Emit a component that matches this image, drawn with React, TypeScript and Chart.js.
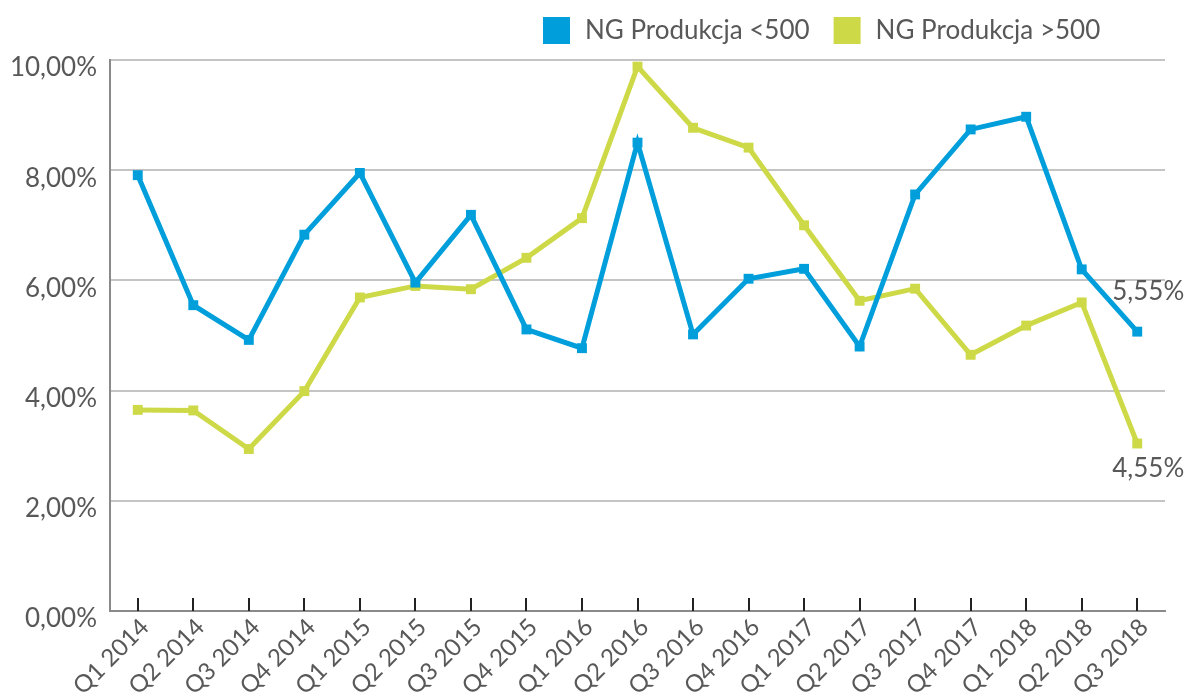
import React, { useEffect, useRef } from "react";
import { Chart, registerables } from "chart.js";
Chart.register(...registerables);

const categories = [
  "Q1 2014", "Q2 2014", "Q3 2014", "Q4 2014",
  "Q1 2015", "Q2 2015", "Q3 2015", "Q4 2015",
  "Q1 2016", "Q2 2016", "Q3 2016", "Q4 2016",
  "Q1 2017", "Q2 2017", "Q3 2017", "Q4 2017",
  "Q1 2018", "Q2 2018", "Q3 2018",
];
const seriesNames = ["NG Produkcja <500", "NG Produkcja >500"];
const valuesBelow500 = [
  7.91, 5.55, 4.92, 6.83, 7.95, 5.96, 7.19, 5.11, 4.77, 8.5,
  5.02, 6.03, 6.21, 4.8, 7.56, 8.74, 8.97, 6.2, 5.07,
];
const valuesAbove500 = [
  3.65, 3.64, 2.94, 3.99, 5.69, 5.9, 5.84, 6.41, 7.13, 9.88,
  8.77, 8.41, 7.0, 5.63, 5.85, 4.65, 5.18, 5.6, 3.04,
];
const endLabels = ["5,55%", "4,55%"];
const yMin = 0;
const yMax = 10;
const yStep = 2;

const COLORS = ["#009fdb", "#cdd947"];
const TEXT = "#585858";
const FONT = "Lato, 'Open Sans', sans-serif";

const fmt = (v: number) => v.toFixed(2).replace(".", ",") + "%";

const legendPlugin = {
  id: "customLegend",
  afterDraw(chart: any) {
    const ctx = chart.ctx;
    ctx.save();
    ctx.font = `26px ${FONT}`;
    ctx.textBaseline = "middle";
    let x = 543;
    const y = 30;
    chart.data.datasets.forEach((ds: any) => {
      ctx.fillStyle = ds.borderColor;
      ctx.fillRect(x, y - 13, 27, 27);
      x += 27 + 15;
      ctx.fillStyle = TEXT;
      ctx.textAlign = "left";
      ctx.fillText(ds.label, x, y + 1);
      x += ctx.measureText(ds.label).width + 24;
    });
    ctx.restore();
  },
};

const innerTicksPlugin = {
  id: "innerTicks",
  afterDraw(chart: any) {
    const sx = chart.scales.x;
    const ctx = chart.ctx;
    const bottom = chart.chartArea.bottom;
    ctx.save();
    ctx.strokeStyle = "#222";
    ctx.lineWidth = 2;
    for (let i = 0; i < sx.ticks.length; i++) {
      const px = Math.round(sx.getPixelForTick(i));
      ctx.beginPath();
      ctx.moveTo(px, bottom - 13);
      ctx.lineTo(px, bottom);
      ctx.stroke();
    }
    ctx.restore();
  },
};

const endLabelPlugin = {
  id: "endLabels",
  afterDatasetsDraw(chart: any) {
    const ctx = chart.ctx;
    ctx.save();
    ctx.font = `26px ${FONT}`;
    ctx.fillStyle = TEXT;
    ctx.textAlign = "center";
    ctx.textBaseline = "middle";
    chart.data.datasets.forEach((ds: any, di: number) => {
      const meta = chart.getDatasetMeta(di);
      const pt = meta.data[meta.data.length - 1];
      if (!pt) return;
      const dy = di === 0 ? -40 : 25;
      ctx.fillText(endLabels[di], pt.x + 11, pt.y + dy);
    });
    ctx.restore();
  },
};

export default function App() {
  const ref = useRef<HTMLCanvasElement | null>(null);
  useEffect(() => {
    if (!ref.current) return;
    const chart = new Chart(ref.current, {
      type: "line",
      data: {
        labels: categories,
        datasets: [
          {
            label: seriesNames[0],
            data: valuesBelow500,
            borderColor: COLORS[0],
            backgroundColor: COLORS[0],
            borderWidth: 5,
            pointStyle: "rect",
            pointRadius: 7,
            pointBorderWidth: 0,
            tension: 0,
          },
          {
            label: seriesNames[1],
            data: valuesAbove500,
            borderColor: COLORS[1],
            backgroundColor: COLORS[1],
            borderWidth: 5,
            pointStyle: "rect",
            pointRadius: 7,
            pointBorderWidth: 0,
            tension: 0,
          },
        ],
      },
      options: {
        responsive: false,
        animation: false,
        layout: { padding: { top: 60, right: 19, left: 0, bottom: 0 } },
        plugins: {
          legend: { display: false },
          tooltip: { enabled: false },
        },
        scales: {
          x: {
            offset: true,
            grid: { display: false, drawTicks: false },
            border: { display: true, color: "#8a8a8a", width: 2 },
            ticks: {
              color: TEXT,
              font: { family: FONT, size: 24 },
              minRotation: 45,
              maxRotation: 45,
              padding: 2,
              labelOffset: 7,
              autoSkip: false,
            },
            afterFit(scale: any) {
              scale.height = 87;
            },
          },
          y: {
            min: yMin,
            max: yMax,
            grid: { color: "#c4c4c4", lineWidth: 2, drawTicks: false },
            border: { display: true, color: "#8a8a8a", width: 2 },
            ticks: {
              stepSize: yStep,
              color: TEXT,
              font: { family: FONT, size: 26 },
              padding: 13,
              labelOffset: 8,
              callback: (v: any) => fmt(Number(v)),
            },
            afterFit(scale: any) {
              scale.width = 110;
            },
          },
        },
      },
      plugins: [legendPlugin, innerTicksPlugin, endLabelPlugin],
    });
    return () => chart.destroy();
  }, []);
  return (
    <div style={{ position: "fixed", left: 0, top: 0, width: 1184, height: 698, background: "#fff" }}>
      <canvas ref={ref} width={1184} height={698} />
    </div>
  );
}
